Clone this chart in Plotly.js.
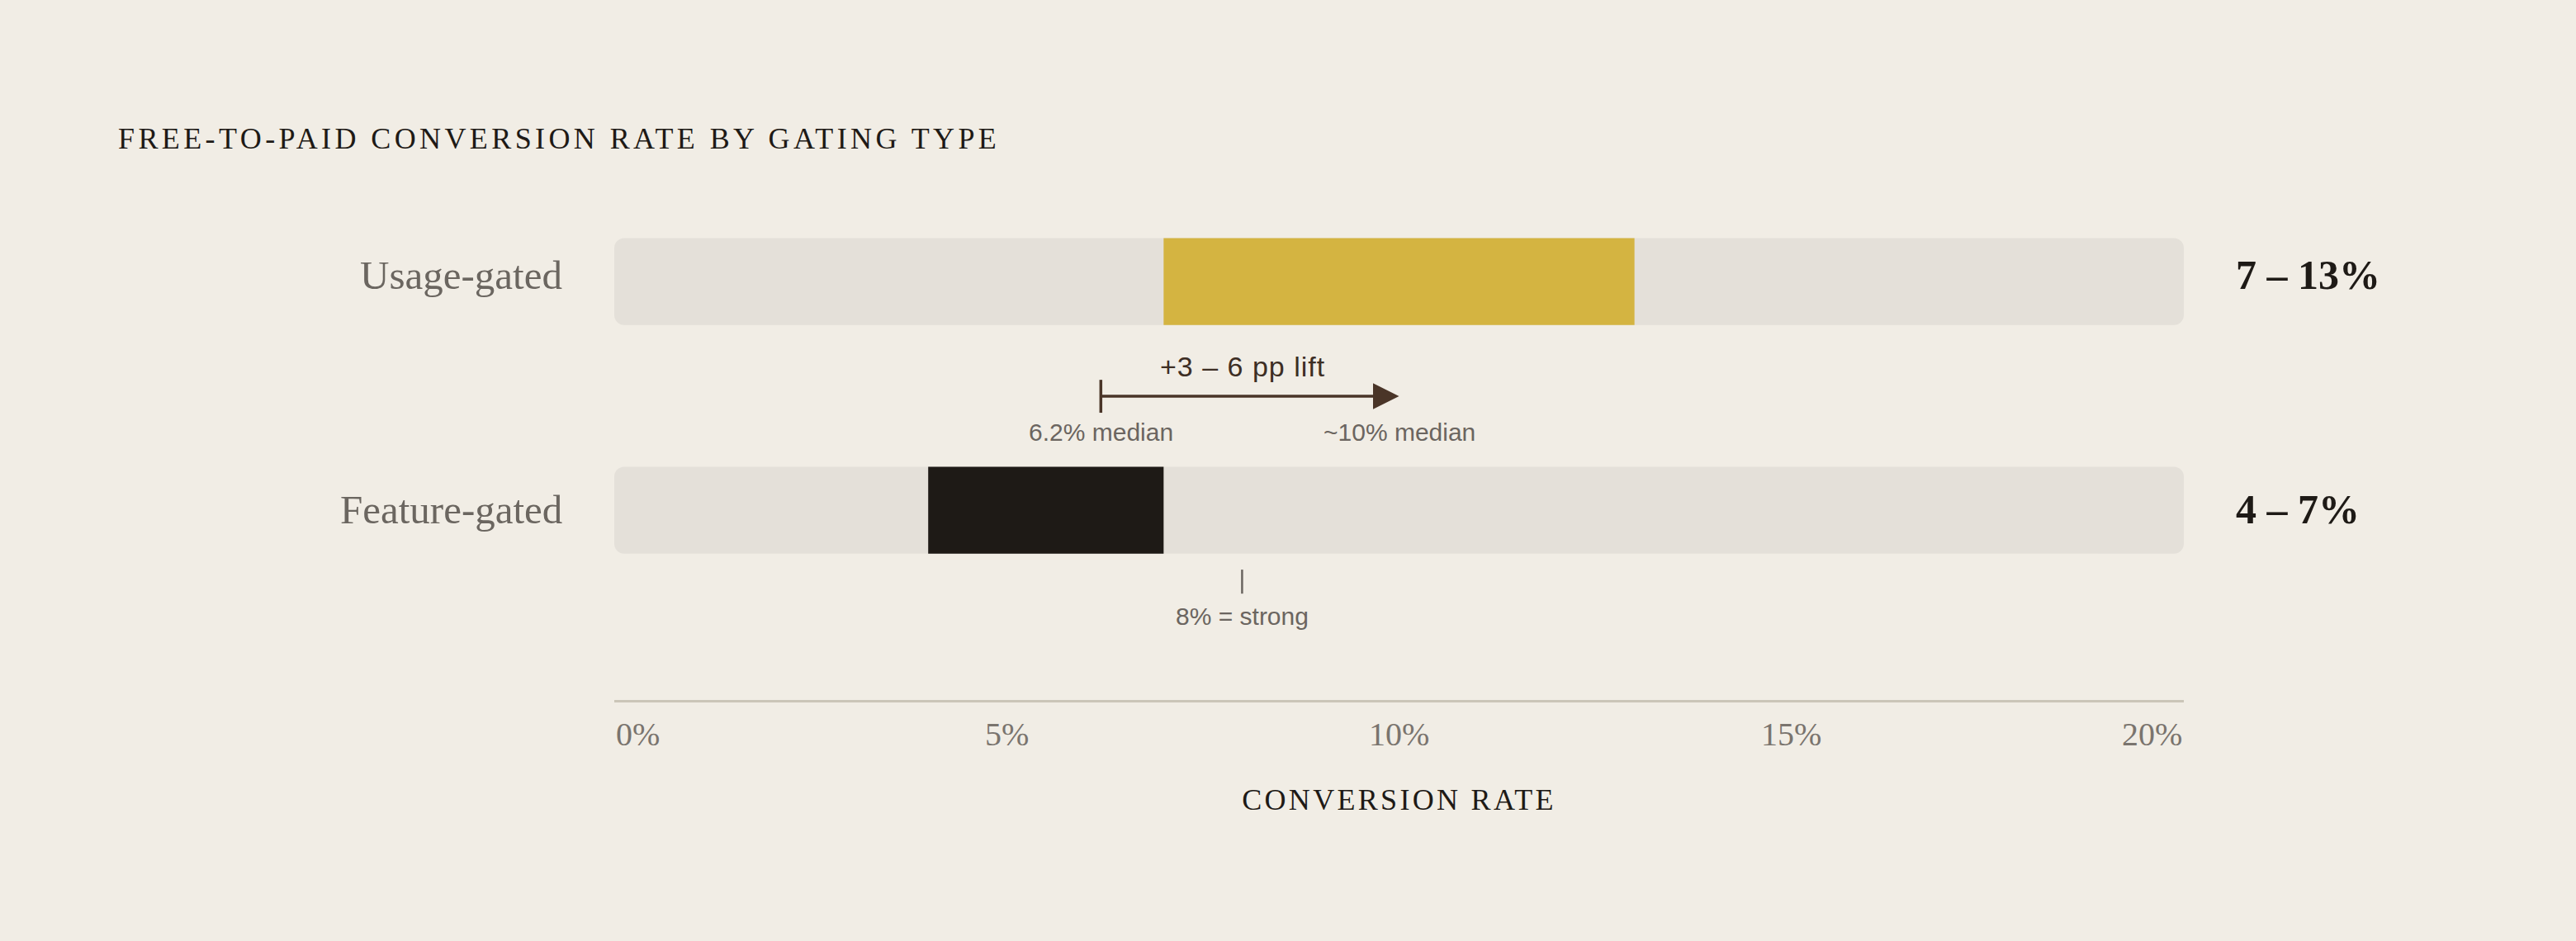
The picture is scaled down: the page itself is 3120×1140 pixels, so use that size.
<!DOCTYPE html>
<html>
<head>
<meta charset="utf-8">
<script src="https://cdn.plot.ly/plotly-3.0.1.min.js"></script>
<style>
  html, body { margin: 0; padding: 0; background: #F1EDE5; }
  #plot { width: 3120px; height: 1140px; }
  .gtitle { letter-spacing: 4.4px; }
</style>
</head>
<body>
<div id="plot"></div>
<script>
// Data
const categories = ['Usage-gated', 'Feature-gated'];
const rangeLow = [7, 4];
const rangeHigh = [13, 7];
const trackMax = [20, 20];
const medians = [6.2, 10];
const medianLabels = ['6.2% median', '~10% median'];
const liftLabel = '+3 – 6 pp lift';
const benchmark = 8;
const benchmarkLabel = '8% = strong';
const tickVals = [0, 5, 10, 15, 20];
const tickText = ['0%', '5%', '10%', '15%', '20%'];

// Styling
const serif = 'Liberation Serif, Times New Roman, serif';
const sans = 'Liberation Sans, Arial, sans-serif';
const barColors = ['#D4B441', '#1E1A16'];
const labelNudge = [8, 1];  // px, per row
const bg = '#F1EDE5';

// Background tracks (0 – 20%)
const trackTrace = {
    type: 'bar',
    orientation: 'h',
    y: categories,
    x: trackMax,
    base: 0,
    width: 0.38,
    marker: { color: '#E4E0D9', cornerradius: 12 },
    hoverinfo: 'skip',
    showlegend: false
};

// Conversion range bars
const rangeTrace = {
    type: 'bar',
    orientation: 'h',
    y: categories,
    x: rangeHigh.map((h, i) => h - rangeLow[i]),
    base: rangeLow,
    width: 0.38,
    marker: { color: barColors },
    hovertemplate: '%{y}: %{base}–%{x}<extra></extra>',
    showlegend: false
};

const annotations = [];
const spaced = {};  // annotation index -> letter spacing (px)

// axis title
spaced[annotations.length] = 3.3;
annotations.push({
    xref: 'paper', yref: 'paper', x: 0.5, y: 0, yshift: -121,
    xanchor: 'center', yanchor: 'middle', showarrow: false,
    text: 'CONVERSION RATE',
    font: { family: serif, size: 36, color: '#1E1A16' }
});

// tick labels, ends anchored inward
tickVals.forEach((v, i) => {
    annotations.push({
        xref: 'x', yref: 'paper', x: v, y: 0, yshift: -41,
        xanchor: i === 0 ? 'left' : (i === tickVals.length - 1 ? 'right' : 'center'),
        yanchor: 'middle', showarrow: false,
        text: tickText[i],
        font: { family: serif, size: 40, color: '#7A746E' }
    });
});

// category labels on the left
categories.forEach((c, i) => {
    annotations.push({
        xref: 'paper', yref: 'y', x: 0, y: i, xshift: -61, yshift: labelNudge[i],
        xanchor: 'right', yanchor: 'middle', showarrow: false,
        text: c,
        font: { family: serif, size: 49, color: '#6B6660' }
    });
});

// range labels to the right of the tracks
categories.forEach((c, i) => {
    annotations.push({
        xref: 'paper', yref: 'y', x: 1, y: i, xshift: 61, yshift: labelNudge[i],
        xanchor: 'left', yanchor: 'middle', showarrow: false,
        text: '<b>' + rangeLow[i] + ' – ' + rangeHigh[i] + '%</b>',
        font: { family: serif, size: 50, color: '#1E1A16' }
    });
});

// lift arrow between medians
annotations.push({
    xref: 'x', yref: 'y', axref: 'x', ayref: 'y',
    x: medians[1], y: 0.502, ax: medians[0], ay: 0.502,
    text: '', showarrow: true,
    arrowhead: 2, arrowsize: 1.8, arrowwidth: 3.5, arrowcolor: '#4A3528',
    standoff: 0, startstandoff: 0
});
spaced[annotations.length] = 1;
annotations.push({
    xref: 'x', yref: 'y', x: (medians[0] + medians[1]) / 2, y: 0.372, xshift: -8,
    xanchor: 'center', yanchor: 'middle', showarrow: false,
    text: liftLabel,
    font: { family: sans, size: 34, color: '#3D2E24' }
});
medians.forEach((m, i) => {
    annotations.push({
        xref: 'x', yref: 'y', x: m, y: 0.657,
        xanchor: 'center', yanchor: 'middle', showarrow: false,
        text: medianLabels[i],
        font: { family: sans, size: 30, color: '#6B6560' }
    });
});

// benchmark marker
annotations.push({
    xref: 'x', yref: 'y', x: benchmark, y: 1.462,
    xanchor: 'center', yanchor: 'middle', showarrow: false,
    text: benchmarkLabel,
    font: { family: sans, size: 30, color: '#6B6560' }
});

const shapes = [
    {
        type: 'line', xref: 'x', yref: 'y',
        x0: medians[0], x1: medians[0], y0: 0.43, y1: 0.574,
        line: { color: '#4A3528', width: 3.5 }
    },
    {
        type: 'line', xref: 'x', yref: 'y',
        x0: benchmark, x1: benchmark, y0: 1.26, y1: 1.365,
        line: { color: '#6B6560', width: 2.5 }
    }
];

// letter spacing for selected annotations
const css = Object.keys(spaced).map(i =>
    '.annotation[data-index="' + i + '"] text { letter-spacing: ' + spaced[i] + 'px; }').join('\n');
const styleEl = document.createElement('style');
styleEl.textContent = css;
document.head.appendChild(styleEl);

const layout = {
    width: 3120,
    height: 1140,
    paper_bgcolor: bg,
    plot_bgcolor: bg,
    barmode: 'overlay',
    margin: { l: 744, r: 475, t: 200, b: 292 },
    title: {
        text: 'FREE-TO-PAID CONVERSION RATE BY GATING TYPE',
        x: 143 / 3120, xref: 'container', xanchor: 'left',
        y: 1 - 167 / 1140, yref: 'container', yanchor: 'middle',
        font: { family: serif, size: 36, color: '#1E1A16' }
    },
    xaxis: {
        range: [0, 20],
        showgrid: false,
        zeroline: false,
        showticklabels: false,
        ticks: '',
        showline: true,
        linecolor: '#CBC5B8',
        linewidth: 3,
        fixedrange: true
    },
    yaxis: {
        type: 'category',
        range: [1.83, -0.509],
        showgrid: false,
        zeroline: false,
        showline: false,
        showticklabels: false,
        ticks: '',
        fixedrange: true
    },
    annotations: annotations,
    shapes: shapes,
    showlegend: false
};

Plotly.newPlot('plot', [trackTrace, rangeTrace], layout, { displayModeBar: false, responsive: false });
</script>
</body>
</html>
